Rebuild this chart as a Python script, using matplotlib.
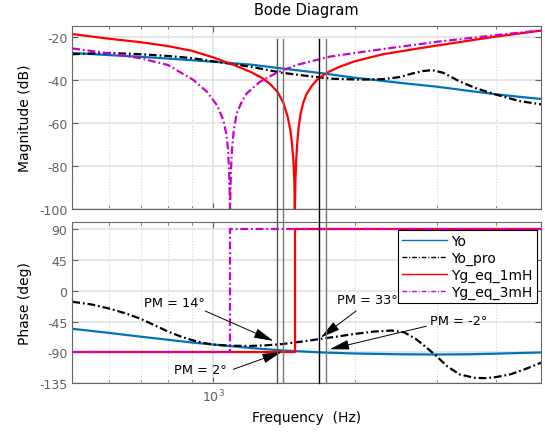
import numpy as np
import matplotlib
matplotlib.use("Agg")
import matplotlib.pyplot as plt
from matplotlib.lines import Line2D
from matplotlib.transforms import blended_transform_factory

plt.rcParams["axes.unicode_minus"] = False

# ---- values ----
f_yo = [500, 600, 700, 800, 900, 1000, 1200, 1400, 1700, 2000, 2500, 3000, 3500, 4000, 4500, 5000]
mag_yo = [-27.4, -28.4, -29.2, -30.0, -30.8, -31.5, -32.8, -34.6, -36.8, -38.9, -41.3, -43.1, -45.0, -46.6, -47.8, -48.8]
ph_yo = [-55.5, -61.5, -67.0, -71.5, -75.5, -78.5, -83.5, -87.0, -90.0, -91.5, -92.7, -93.0, -92.7, -91.8, -90.8, -90.0]

f_pro_mag = [500, 550, 600, 700, 800, 900, 1000, 1200, 1400, 1600, 1800, 2050, 2300, 2500,
             2650, 2800, 2930, 3090, 3350, 3630, 4000, 4500, 5000]
mag_pro = [-28.0, -27.6, -27.4, -28.0, -28.8, -29.8, -31.3, -33.8, -36.6, -38.2, -39.4, -39.8, -39.6, -38.6,
           -37.0, -35.8, -35.4, -36.6, -40.6, -43.8, -46.7, -49.8, -51.3]
f_pro_ph = [500, 550, 600, 650, 700, 750, 800, 850, 900, 950, 1000, 1100, 1200, 1300, 1400, 1550, 1700,
            1850, 2000, 2200, 2400, 2550, 2700, 2850, 3000, 3150, 3350, 3600, 3800, 4000, 4300, 4600, 5000]
ph_pro = [-16, -20, -26, -33, -41, -50.5, -59.5, -66.5, -72, -76, -78.5, -80.3, -80.5, -79.5, -77.8, -74, -70,
          -66.5, -63, -59.5, -58, -60.5, -70, -83, -96, -110, -122, -127, -127.5, -126, -122, -115, -105]

f_1mh = [500, 600, 700, 800, 900, 1000, 1100, 1200, 1270, 1320, 1370, 1410, 1440, 1460, 1472, 1482,
         1488, 1492, 1496, 1502, 1510, 1520, 1535, 1555, 1580, 1620, 1670, 1750, 1850, 2000, 2300,
         2700, 3200, 4000, 5000]
mag_1mh = [-18.6, -20.8, -22.4, -24.2, -26.4, -29.5, -32.8, -36.2, -39.0, -41.8, -45.5, -50.5, -57.0,
           -63.5, -70.0, -78.0, -87.0, -100.0, -87.0, -77.0, -69.0, -62.0, -55.5, -50.5, -46.5, -42.8,
           -39.5, -36.5, -34.0, -31.3, -28.0, -25.5, -23.0, -19.8, -17.0]
f_1mh_ph = [500, 1492, 1492, 5000]
ph_1mh = [-90, -90, 90, 90]

f_3mh = [500, 600, 700, 800, 850, 907, 968, 1017, 1050, 1065, 1074, 1080, 1085, 1090, 1096, 1105,
         1121, 1150, 1178, 1257, 1364, 1504, 1771, 2050, 2500, 3000, 4000, 5000]
mag_3mh = [-25.3, -27.6, -29.9, -33.0, -36.4, -40.0, -45.4, -51.6, -58.6, -65.0, -72.0, -82.0, -100.0,
           -82.0, -72.0, -63.5, -55.5, -50.0, -46.2, -40.8, -36.6, -33.0, -29.1, -27.1, -24.5, -22.2,
           -19.1, -16.9]
f_3mh_ph = [500, 1085, 1085, 5000]
ph_3mh = [-90, -90, 90, 90]

# crossover markers and phase-margin notes
f_marks = [1366, 1411, 1681, 1739]
mark_colors = ["#555555", "#777777", "black", "#777777"]
notes = [
    # text, text pos (f, deg), arrow tail (f, deg), arrow tip (f, deg)
    ("PM = 14°", (825, -16.7), (960, -29.4), (1342, -73.2)),
    ("PM = 2°", (937, -114.6), (1103, -114.6), (1398, -89.3)),
    ("PM = 33°", (2133, -12.3), (2016, -29.4), (1695, -68.2)),
    ("PM = -2°", (3335, -44.0), (2847, -51.7), (1771, -85.3)),
]

BLUE = "#0072BD"
MAG = "#CC00CC"
TICK = "#606060"
DASHDOT = (0, (3.5, 1.3, 0.8, 1.3))

fig = plt.figure(figsize=(5.45, 4.35), dpi=100)
ax1 = fig.add_axes([0.1327, 0.5172, 0.8600, 0.4200])
ax2 = fig.add_axes([0.1327, 0.1166, 0.8600, 0.3701])

ax1.semilogx(f_yo, mag_yo, color=BLUE, lw=1.6)
ax1.semilogx(f_pro_mag, mag_pro, color="black", lw=1.6, ls=DASHDOT)
ax1.semilogx(f_1mh, mag_1mh, color="red", lw=1.6)
ax1.semilogx(f_3mh, mag_3mh, color=MAG, lw=1.6, ls=DASHDOT)

ax2.semilogx(f_yo, ph_yo, color=BLUE, lw=1.6, label="Yo")
ax2.semilogx(f_pro_ph, ph_pro, color="black", lw=1.6, ls=DASHDOT, label="Yo_pro")
ax2.semilogx(f_1mh_ph, ph_1mh, color="red", lw=1.6, label="Yg_eq_1mH")
ax2.semilogx(f_3mh_ph, ph_3mh, color=MAG, lw=1.6, ls=DASHDOT, label="Yg_eq_3mH")

for ax in (ax1, ax2):
    ax.set_xlim(500, 5000)
    ax.set_axisbelow(True)
    ax.grid(True, which="major", color="#e2e2e2", lw=1.2)
    ax.grid(True, which="minor", axis="x", color="#d5d5d5", lw=0.8, ls=":")
    ax.tick_params(which="both", direction="in", top=True, right=True,
                   colors=TICK, labelsize=9)
    ax.tick_params(which="major", length=4)
    ax.tick_params(which="minor", length=2.5)
    for s in ax.spines.values():
        s.set_color("#666666")
        s.set_linewidth(0.8)

ax1.set_ylim(-100, -15)
ax1.set_yticks([-100, -80, -60, -40, -20])
ax1.tick_params(labelbottom=False)
ax2.set_ylim(-135, 100)
ax2.set_yticks([-135, -90, -45, 0, 45, 90])

ax1.set_ylabel("Magnitude (dB)", fontsize=10)
ax2.set_ylabel("Phase (deg)", fontsize=10)
ax1.yaxis.set_label_coords(-0.086, 0.5)
ax2.yaxis.set_label_coords(-0.086, 0.5)
ax2.set_xlabel("Frequency  (Hz)", fontsize=10, labelpad=4)
fig.text(0.5627, 1 - 10.5 / 435, "Bode Diagram", ha="center", va="center", fontsize=10.5)

# vertical crossover lines spanning both panels
tr = blended_transform_factory(ax1.transData, fig.transFigure)
for fm, c in zip(f_marks, mark_colors):
    fig.add_artist(Line2D([fm, fm], [0.908, 0.1166], transform=tr, color=c, lw=1.0, zorder=5))

for txt, tpos, tail, tip in notes:
    ax2.text(tpos[0], tpos[1], txt, ha="center", va="center", fontsize=9.3, zorder=6)
    ax2.annotate("", xy=tip, xytext=tail,
                 arrowprops=dict(arrowstyle="-|>,head_length=1.0,head_width=0.25",
                                 color="black", lw=0.7, shrinkA=0, shrinkB=0,
                                 mutation_scale=12), zorder=6)

leg = ax2.legend(loc="upper left", bbox_to_anchor=(0.6955, 0.952), borderaxespad=0,
                 fontsize=10, frameon=True, fancybox=False, framealpha=1,
                 edgecolor="black", handlelength=3.2, handletextpad=0.3,
                 labelspacing=0.2, borderpad=0.3)
leg.get_frame().set_linewidth(0.8)
leg.set_zorder(10)
for ln in leg.get_lines():
    ln.set_linewidth(1.0)

fig.savefig("out.png", dpi=100)
